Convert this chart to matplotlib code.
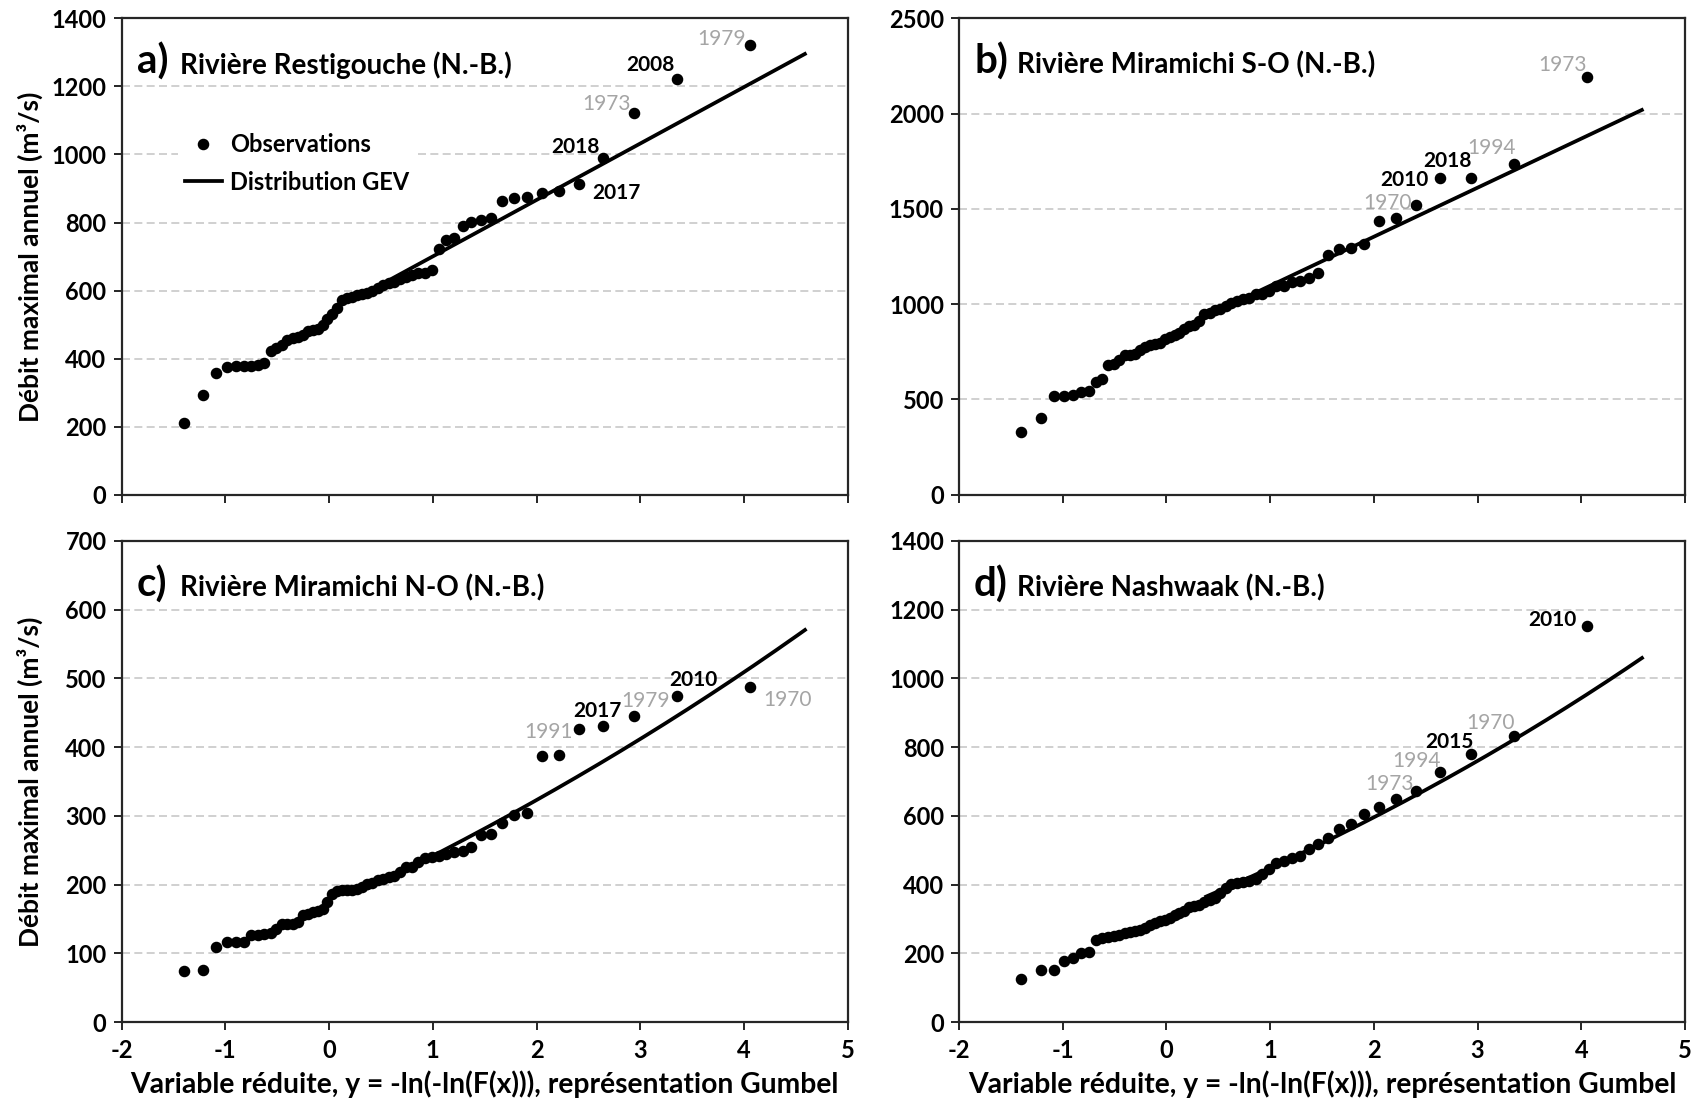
import numpy as np
import matplotlib
matplotlib.use("Agg")
import matplotlib.pyplot as plt
from matplotlib.lines import Line2D

plt.rcParams["font.family"] = ["Lato", "DejaVu Sans"]
plt.rcParams["axes.unicode_minus"] = False

# ---------------------------------------------------------------------------
# Annual maximum flows (m3/s), sorted in increasing order
# ---------------------------------------------------------------------------
flow_restigouche = [212, 293, 357, 375, 377, 378, 378, 380, 388, 421,
                    430, 440, 455, 460, 465, 470, 482, 484, 486, 499,
                    516, 531, 548, 571, 577, 582, 587, 590, 594, 600,
                    609, 615, 622, 626, 633, 641, 646, 651, 651, 660,
                    722, 748, 755, 790, 802, 807, 812, 862, 872, 874,
                    887, 893, 912, 990, 1123, 1222, 1322]

flow_miramichi_so = [328, 402, 518, 518, 525, 540, 545, 591, 609, 683,
                     688, 705, 732, 735, 740, 758, 775, 788, 793, 798,
                     816, 828, 840, 851, 868, 886, 893, 911, 946, 956,
                     968, 977, 991, 1004, 1016, 1026, 1030, 1051, 1056, 1068,
                     1096, 1096, 1114, 1120, 1138, 1164, 1257, 1292, 1297, 1318,
                     1439, 1453, 1523, 1661, 1661, 1734, 2190]

flow_miramichi_no = [74, 76, 109, 116, 117, 117, 127, 127, 128, 130,
                     135, 142, 143, 143, 146, 155, 157, 160, 162, 164,
                     175, 186, 191, 192, 192, 192, 194, 196, 201, 203,
                     206, 208, 211, 213, 218, 225, 225, 233, 238, 240,
                     242, 245, 247, 249, 254, 272, 273, 289, 301, 304,
                     387, 388, 427, 431, 446, 474, 487]

flow_nashwaak = [124, 151, 151, 178, 187, 200, 203, 239, 244, 246,
                 249, 254, 259, 263, 265, 268, 273, 283, 288, 295,
                 298, 304, 310, 317, 324, 334, 337, 341, 349, 356,
                 361, 376, 390, 402, 405, 408, 410, 415, 432, 445,
                 462, 470, 476, 484, 504, 518, 536, 562, 575, 606,
                 625, 648, 672, 727, 779, 832, 1154]

# Fitted GEV parameters (location, scale, shape; Hosking convention)
gev_restigouche = (534.5, 166.0, 0.0)
gev_miramichi_so = (839.0, 257.5, 0.0)
gev_miramichi_no = (167.5, 71.0, -0.09)
gev_nashwaak = (316.0, 125.3, -0.108)

# Return periods spanned by the fitted curve (years)
curve_return_periods = [2, 100]

panel_letters = ["a)", "b)", "c)", "d)"]
river_names = ["Rivière Restigouche (N.-B.)",
               "Rivière Miramichi S-O (N.-B.)",
               "Rivière Miramichi N-O (N.-B.)",
               "Rivière Nashwaak (N.-B.)"]
y_tops = [1400, 2500, 700, 1400]
y_steps = [200, 500, 100, 200]
x_tick_values = [-2, -1, 0, 1, 2, 3, 4, 5]

# Years written next to the largest floods: (rank in sorted series, year)
years_restigouche = [(57, "1979"), (56, "2008"), (55, "1973"), (54, "2018"), (53, "2017")]
years_miramichi_so = [(57, "1973"), (56, "1994"), (55, "2018"), (54, "2010"), (53, "1970")]
years_miramichi_no = [(53, "1991"), (54, "2017"), (55, "1979"), (56, "2010"), (57, "1970")]
years_nashwaak = [(57, "2010"), (56, "1970"), (55, "2015"), (54, "1994"), (53, "1973")]
recent_years = ["2008", "2010", "2015", "2017", "2018"]

legend_labels = ["Observations", "Distribution GEV"]
x_label_text = "Variable réduite, y = -ln(-ln(F(x))), représentation Gumbel"
y_label_text = "Débit maximal annuel (m³/s)"

# ---------------------------------------------------------------------------
# Label placement (offset in pixels from the marker, horizontal alignment)
# ---------------------------------------------------------------------------
offsets_a = [(-4, 6, "right"), (-2, 14, "right"), (-3, 9, "right"),
             (-3, 11, "right"), (13, -9, "left")]
offsets_b = [(0, 12, "right"), (2, 16, "right"), (1, 17, "right"),
             (-12, -2, "right"), (-4, 2, "right")]
offsets_c = [(-6, -3, "right"), (-5, 15, "center"), (12, 15, "center"),
             (17, 16, "center"), (14, -13, "left")]
offsets_d = [(-10, 6, "right"), (1, 13, "right"), (3, 12, "right"),
             (1, 11, "right"), (-2, 7, "right")]

GREY = "#a5a5a5"
DPI = 100
PX = 72.0 / DPI  # points per pixel


def gumbel_variate(n):
    """Reduced Gumbel variate of the Weibull plotting positions i/(n+1)."""
    rank = np.arange(1, n + 1)
    prob = rank / (n + 1.0)
    return -np.log(-np.log(prob))


def gev_quantile(y, loc, scale, shape):
    if shape == 0:
        return loc + scale * y
    return loc + scale / shape * (1.0 - np.exp(-shape * y))


fig = plt.figure(figsize=(17.01, 11.02), dpi=DPI)
W, H = 1701.0, 1102.0

# axes boxes in pixels: (left, top, right, bottom)
boxes = [(121.5, 18.4, 848.0, 494.7), (959.0, 18.4, 1685.0, 494.7),
         (121.5, 541.0, 848.0, 1022.0), (959.0, 541.0, 1685.0, 1022.0)]

flows = [flow_restigouche, flow_miramichi_so, flow_miramichi_no, flow_nashwaak]
gevs = [gev_restigouche, gev_miramichi_so, gev_miramichi_no, gev_nashwaak]
years = [years_restigouche, years_miramichi_so, years_miramichi_no, years_nashwaak]
offsets = [offsets_a, offsets_b, offsets_c, offsets_d]

t_lo, t_hi = curve_return_periods
y_curve = np.linspace(-np.log(-np.log(1 - 1.0 / t_lo)),
                      -np.log(-np.log(1 - 1.0 / t_hi)), 200)

for k in range(4):
    l, t, r, b = boxes[k]
    ax = fig.add_axes([l / W, 1 - b / H, (r - l) / W, (b - t) / H])
    ax_w, ax_h = r - l, b - t

    q = np.asarray(flows[k], dtype=float)
    x = gumbel_variate(len(q))

    ax.set_xlim(-2, 5)
    ax.set_ylim(0, y_tops[k])
    yt = list(range(0, y_tops[k] + 1, y_steps[k]))
    ax.set_yticks(yt)
    ax.set_yticklabels([str(v) for v in yt], fontweight="bold")
    ax.set_xticks(x_tick_values)
    if k >= 2:
        ax.set_xticklabels([str(v) for v in x_tick_values], fontweight="bold")
    else:
        ax.set_xticklabels([])
    ax.tick_params(direction="out", length=5.5, width=1.2,
                   labelsize=17, colors="black")
    ax.tick_params(axis="y", pad=5.3)
    ax.tick_params(axis="x", pad=6.5)

    ax.yaxis.grid(True, linestyle=(0, (4.8, 2.6)), color="#c8c8c8", linewidth=1.2)
    ax.set_axisbelow(True)
    for sp in ax.spines.values():
        sp.set_linewidth(1.6)
        sp.set_color("#262626")

    ax.plot(x, q, "o", color="black", ms=7.3, zorder=3, clip_on=False)
    ax.plot(y_curve, gev_quantile(y_curve, *gevs[k]), "-", color="black",
            lw=2.7, zorder=4, solid_capstyle="butt")

    for (rank, yr), (dx, dy, ha) in zip(years[k], offsets[k]):
        recent = yr in recent_years
        ax.annotate(yr, xy=(x[rank - 1], q[rank - 1]),
                    xytext=(dx * PX, dy * PX), textcoords="offset points",
                    ha=ha, va="center", fontsize=15,
                    fontweight="bold" if recent else "normal",
                    color="black" if recent else GREY, zorder=5)

    yb = 1 - 55.5 / ax_h
    ax.text(15.0 / ax_w, yb, panel_letters[k], transform=ax.transAxes,
            fontsize=29, fontweight="bold", va="baseline", ha="left")
    ax.text(58.0 / ax_w, yb, river_names[k], transform=ax.transAxes,
            fontsize=20, fontweight="bold", va="baseline", ha="left")

    if k in (0, 2):
        ax.set_ylabel(y_label_text, fontsize=19, fontweight="bold")
        ax.yaxis.set_label_coords(-91.5 / ax_w, 0.5)
        ax.yaxis.label.set_va("center")
    if k >= 2:
        ax.set_xlabel(x_label_text, fontsize=20.3, fontweight="bold")
        ax.xaxis.set_label_coords(0.5, -62.0 / ax_h)
        ax.xaxis.label.set_va("center")

    if k == 0:
        handles = [Line2D([], [], marker="o", ls="none", color="black", ms=7.3),
                   Line2D([], [], color="black", lw=2.7)]
        leg = ax.legend(handles, legend_labels, loc="upper left",
                        bbox_to_anchor=((178 - l) / ax_w, (b - 126.0) / ax_h),
                        frameon=True, facecolor="white", edgecolor="none",
                        framealpha=1, fancybox=False, handlelength=1.55,
                        handletextpad=0.37, labelspacing=0.62, borderpad=0.3,
                        borderaxespad=0, prop={"size": 17, "weight": "bold"})
        leg.set_zorder(2.5)

fig.savefig("out.png", dpi=DPI)
